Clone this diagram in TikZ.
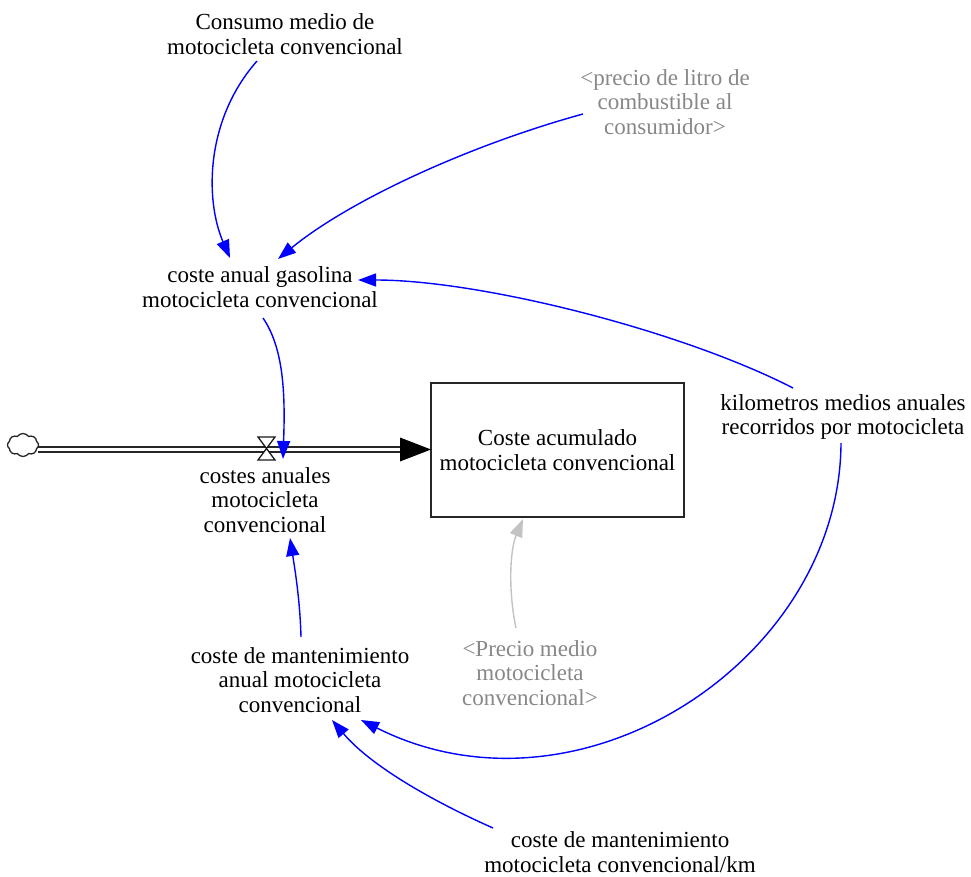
\documentclass[tikz,border=0pt]{standalone}
\usepackage{fontspec}
\setmainfont{Liberation Serif}
\usetikzlibrary{arrows.meta,shapes.symbols}
\definecolor{vblue}{RGB}{0,0,255}
\definecolor{vgraytext}{RGB}{135,135,135}
\definecolor{vgrayline}{RGB}{195,195,195}
\begin{document}
\begin{tikzpicture}[x=1pt,y=-1pt,
  lbl/.style={align=center,font=\fontsize{23}{24.5}\selectfont,inner sep=1pt},
  shadow/.style={lbl,text=vgraytext},
  link/.style={draw=vblue,line width=1.4pt,-{Triangle[length=18pt,width=13pt]}},
  glink/.style={draw=vgrayline,line width=1.4pt,-{Triangle[length=18pt,width=13pt]}},
  stockbox/.style={draw=black!85,line width=1.4pt,minimum width=253pt,minimum height=134pt,align=center,font=\fontsize{23}{24.5}\selectfont}]
\useasboundingbox (0,0) rectangle (971,877);

% nodes
\node[lbl] (cons) at (285,34) {Consumo medio de\\motocicleta convencional};
\node[shadow] (prec) at (665,102) {<precio de litro de\\combustible al\\consumidor>};
\node[lbl] (gas) at (260,287) {coste anual gasolina\\motocicleta convencional};
\node[stockbox] (stock) at (557.5,450) {Coste acumulado\\motocicleta convencional};
\node[lbl] (km) at (843,417) {kilometros medios anuales\\recorridos por motocicleta};
\node[lbl] (flow) at (265,500) {costes anuales\\motocicleta\\convencional};
\node[shadow] (pmed) at (530,673) {<Precio medio\\motocicleta\\convencional>};
\node[lbl] (mant) at (300,680) {coste de mantenimiento\\anual motocicleta\\convencional};
\node[lbl] (mkm) at (620,852) {coste de mantenimiento\\motocicleta convencional/km};

% cloud source
\node[cloud,draw=black!85,line width=1.3pt,cloud puffs=8,cloud puff arc=110,minimum width=31pt,minimum height=23pt,inner sep=0pt] (src) at (23,445) {};

% pipe
\coordinate (pipeA) at (38,447);
\coordinate (pipeB) at (38,452);
\draw[line width=1.4pt,black!85] (pipeA) -- (402,447);
\draw[line width=1.4pt,black!85] (pipeB) -- (402,452);
\fill[black] (400,437.5) -- (431,449.5) -- (400,461.5) -- cycle;

% valve
\node[inner sep=0pt,minimum size=0pt] (valve) at (266.5,448.5) {};
\draw[line width=1.3pt,black!90,fill=white] (258,437) -- (275,437) -- (258,460) -- (275,460) -- cycle;

% connector end points
\coordinate (c1s) at (257,61);   \coordinate (c1e) at (230,258);
\coordinate (c2s) at (583,114);  \coordinate (c2e) at (278,259);
\coordinate (c3s) at (793,388);  \coordinate (c3e) at (358,280);
\coordinate (c4s) at (263,318);  \coordinate (c4e) at (283,459);
\coordinate (c5s) at (301,637);  \coordinate (c5e) at (290,538);
\coordinate (c6s) at (841,443);  \coordinate (c6e) at (361,720);
\coordinate (c7s) at (493,828);  \coordinate (c7e) at (332,720);
\coordinate (c8s) at (516,628);  \coordinate (c8e) at (523,519);

% connectors
\draw[link] (c1s) .. controls (205,120) and (205,200) .. (c1e);
\draw[link] (c2s) .. controls (470,145) and (350,200) .. (c2e);
\draw[link] (c3s) .. controls (680,330) and (480,280) .. (c3e);
\draw[link] (c4s) .. controls (285,350) and (285,400) .. (c4e);
\draw[link] (c5s) .. controls (300,600) and (295,570) .. (c5e);
\draw[link] (c6s) .. controls (840,660) and (580,830) .. (c6e);
\draw[link] (c7s) .. controls (430,800) and (370,765) .. (c7e);
\draw[glink] (c8s) .. controls (508,590) and (510,550) .. (c8e);
\end{tikzpicture}
\end{document}
